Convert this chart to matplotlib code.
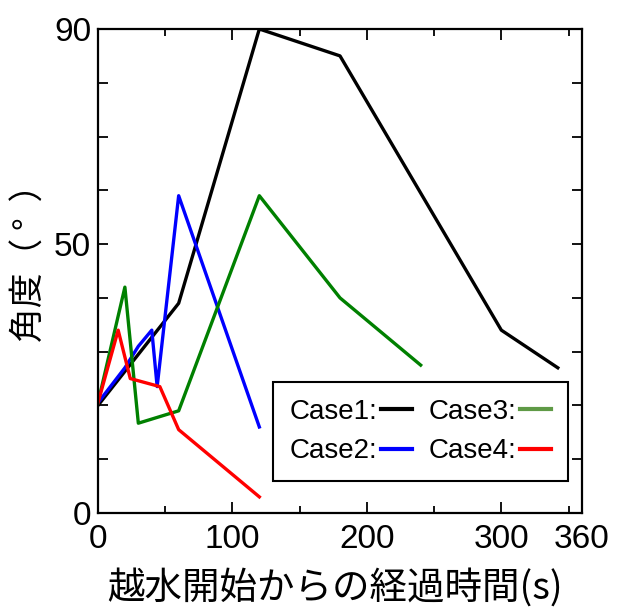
import matplotlib
matplotlib.use("Agg")
import matplotlib.pyplot as plt
from matplotlib.lines import Line2D
from matplotlib.ticker import MultipleLocator

plt.rcParams['font.family'] = ['Liberation Sans', 'Noto Sans CJK JP']

# elapsed time (s) and angle (deg) for each case
t1 = [0, 60, 120, 180, 300, 342]
a1 = [20, 39, 90, 85, 34, 27]

t2 = [0, 20, 30, 40, 44, 60, 120]
a2 = [20.5, 27, 31, 34, 23.5, 59, 16]

t3 = [0, 20, 30, 60, 120, 180, 240]
a3 = [20.5, 42, 16.7, 19, 59, 40, 27.5]

t4 = [0, 15, 24, 46, 60, 120]
a4 = [20.5, 34, 25, 23.5, 15.5, 3]

labels = ['Case1:', 'Case2:', 'Case3:', 'Case4:']
colors = ['black', 'blue', 'green', 'red']
legend_colors = ['black', 'blue', '#5f9a46', 'red']

xticks = [0, 100, 200, 300, 360]
yticks = [0, 50, 90]

fig = plt.figure(figsize=(6.3, 6.07), dpi=100)
ax = fig.add_axes([98/630, 1 - 513/607, 484/630, 484/607])

for t, a, c in zip([t1, t2, t3, t4], [a1, a2, a3, a4], colors):
    ax.plot(t, a, color=c, lw=2.4)

ax.set_xlim(0, 360)
ax.set_ylim(0, 90)
ax.set_xticks(xticks)
ax.set_xticklabels([str(v) for v in xticks])
ax.xaxis.set_minor_locator(MultipleLocator(50))
ax.yaxis.set_major_locator(MultipleLocator(10))
ax.set_yticklabels([str(int(v)) if v in yticks else '' for v in ax.get_yticks()])

ax.tick_params(which='both', direction='in', top=True, right=True, width=1.3, labelsize=24)
ax.tick_params(axis='x', which='major', length=8, pad=8)
ax.tick_params(axis='x', which='minor', length=5)
ax.tick_params(axis='y', which='major', length=7, pad=5)
for s in ax.spines.values():
    s.set_linewidth(1.6)

ax.set_xlabel('越水開始からの経過時間(s)', fontsize=27,
              family=['Noto Sans CJK JP', 'DejaVu Sans'])
ax.xaxis.set_label_coords(0.49, -0.115)
ax.set_ylabel('角度（ °  ）', fontsize=25,
              family=['Noto Sans CJK JP', 'DejaVu Sans'])
ax.yaxis.set_label_coords(-0.105, 0.535)

handles = [Line2D([], [], color=c, lw=3) for c in legend_colors]
leg = ax.legend(handles, labels, ncol=2, markerfirst=False, loc='upper left',
                bbox_to_anchor=(0.361, 0.271),
                prop={'family': 'Liberation Sans', 'size': 20},
                handlelength=1.1, handletextpad=0.15, columnspacing=0.6,
                labelspacing=0.5, fancybox=False, edgecolor='black',
                framealpha=1, borderpad=0.6, borderaxespad=0)
leg.get_frame().set_linewidth(1.5)

fig.savefig('out.png', dpi=100)
